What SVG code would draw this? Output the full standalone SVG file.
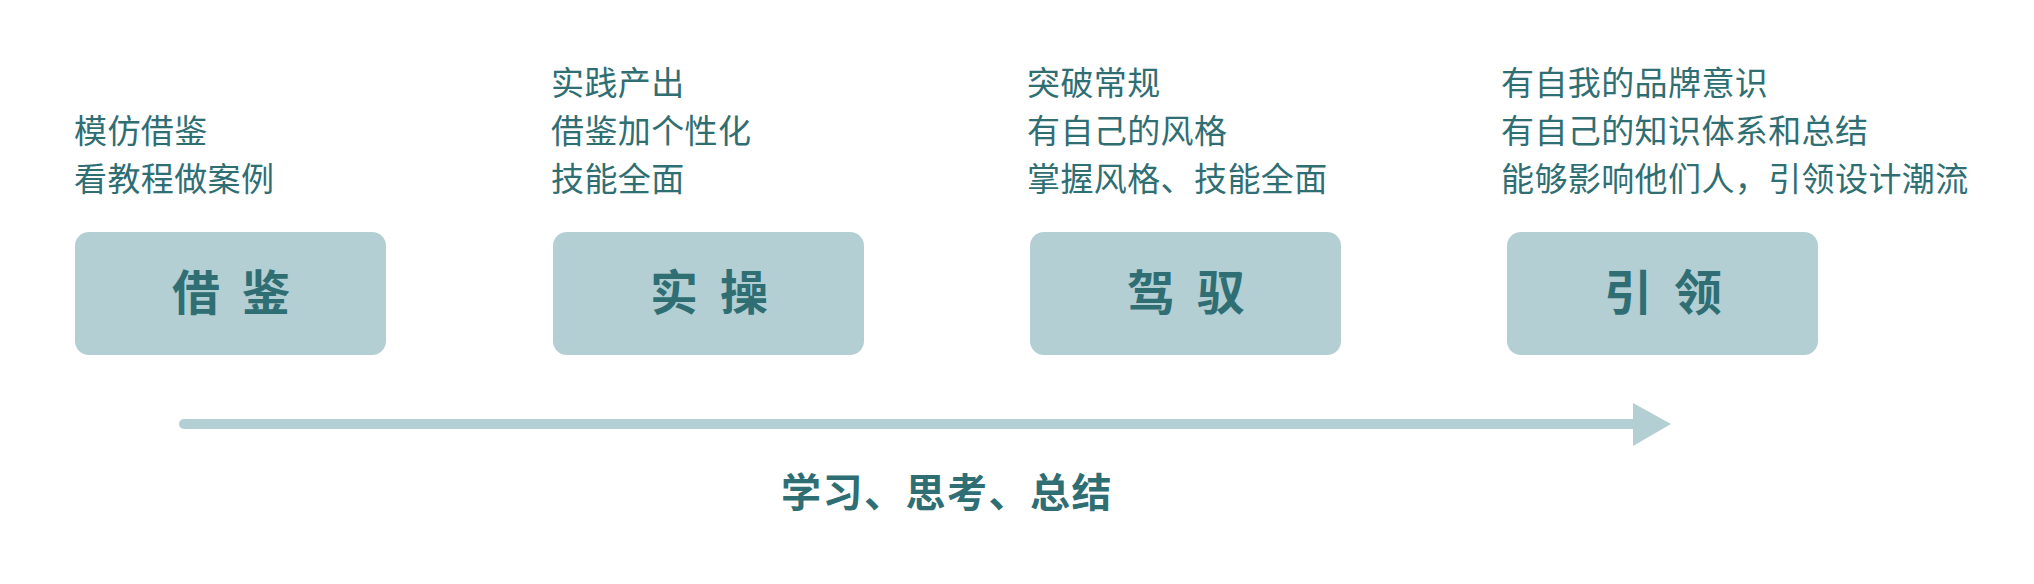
<svg xmlns="http://www.w3.org/2000/svg" width="2034" height="584" viewBox="0 0 2034 584">
<style>
.box{fill:#b3cfd3}
.lbl{font-family:"Noto Sans CJK SC","Noto Sans",sans-serif;font-size:48px;font-weight:700;fill:#2f6e73;letter-spacing:22px}
.desc{font-family:"Noto Sans CJK SC","Noto Sans",sans-serif;font-size:33px;fill:#2f6e73;letter-spacing:0.4px}
.foot{font-family:"Noto Sans CJK SC","Noto Sans",sans-serif;font-size:40px;font-weight:700;fill:#2f6e73;letter-spacing:1.5px}
.line{stroke:#b3cfd3;stroke-width:10;stroke-linecap:round;fill:none}
</style>
<rect width="2034" height="584" fill="#ffffff"/>
<g id="node-jiejian">
<rect class="box" x="75" y="232" width="311" height="123" rx="14"/>
<text class="lbl" x="172" y="310">借鉴</text>
<text class="desc" x="74" y="143">模仿借鉴</text>
<text class="desc" x="74" y="191">看教程做案例</text>
</g>
<g id="node-shicao">
<rect class="box" x="553" y="232" width="311" height="123" rx="14"/>
<text class="lbl" x="650" y="310">实操</text>
<text class="desc" x="551" y="95">实践产出</text>
<text class="desc" x="551" y="143">借鉴加个性化</text>
<text class="desc" x="551" y="191">技能全面</text>
</g>
<g id="node-jiayu">
<rect class="box" x="1030" y="232" width="311" height="123" rx="14"/>
<text class="lbl" x="1127" y="310">驾驭</text>
<text class="desc" x="1027" y="95">突破常规</text>
<text class="desc" x="1027" y="143">有自己的风格</text>
<text class="desc" x="1027" y="191">掌握风格、技能全面</text>
</g>
<g id="node-yinling">
<rect class="box" x="1507" y="232" width="311" height="123" rx="14"/>
<text class="lbl" x="1604" y="310">引领</text>
<text class="desc" x="1501" y="95">有自我的品牌意识</text>
<text class="desc" x="1501" y="143">有自己的知识体系和总结</text>
<text class="desc" x="1501" y="191">能够影响他们人，引领设计潮流</text>
</g>
<g id="connectors">
<line class="line" x1="184" y1="424" x2="1640" y2="424"/>
<polygon points="1633,403 1671,424 1633,446" fill="#b3cfd3"/>
</g>
<text class="foot" x="781" y="507">学习、思考、总结</text>
</svg>
